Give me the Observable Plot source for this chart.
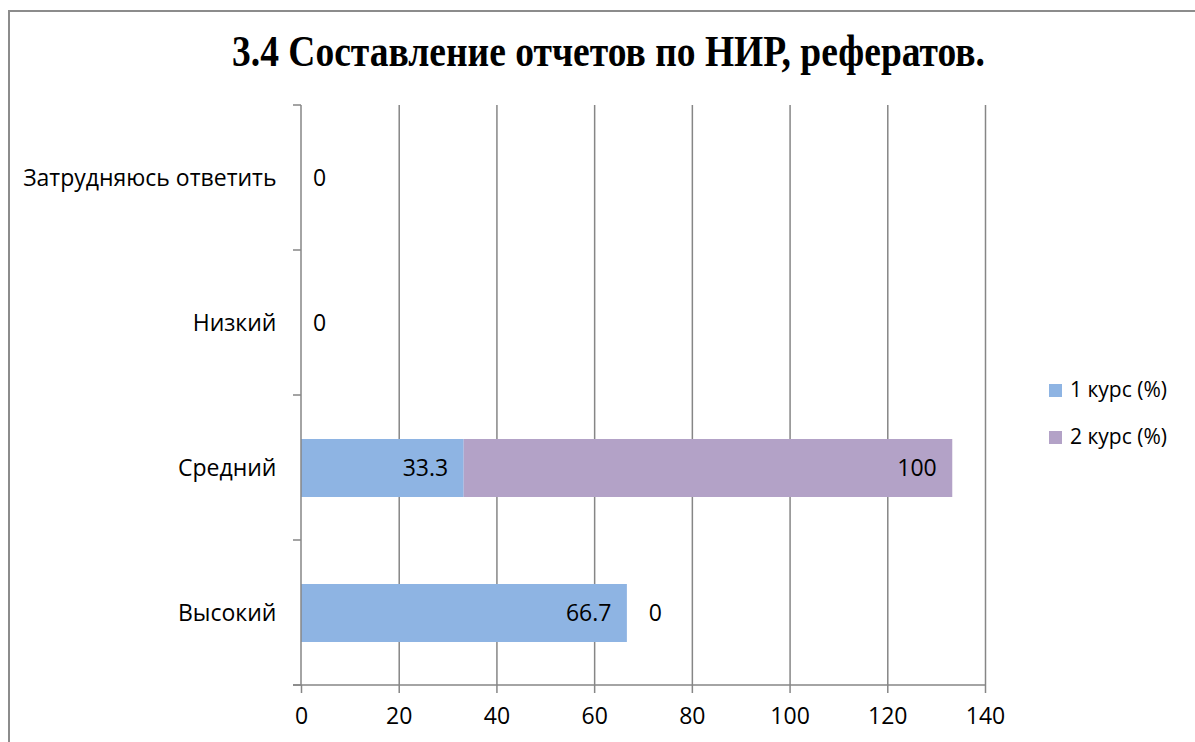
<!DOCTYPE html>
<html>
<head>
<meta charset="utf-8">
<script src="https://cdn.jsdelivr.net/npm/d3@7"></script>
<script src="https://cdn.jsdelivr.net/npm/@observablehq/plot@0.6"></script>
<style>
  html, body { margin: 0; padding: 0; background: #fff; }
  #wrap { position: relative; width: 1195px; height: 742px; overflow: hidden; background: #fff; }
  #frame { position: absolute; left: 8px; top: 10px; width: 1300px; height: 900px; border-left: 2px solid #8c8c8c; border-top: 2px solid #8c8c8c; box-sizing: border-box; }
  #title { position: absolute; left: 232px; top: 29px; font-family: "Liberation Serif", "Times New Roman", serif; font-weight: bold; font-size: 44px; line-height: 46px; white-space: nowrap; color: #000; transform-origin: 0 0; }
  #plot { position: absolute; left: 0; top: 80px; }
  .leg { position: absolute; left: 1049px; font-family: "Open Sans", sans-serif; font-size: 21px; color: #000; white-space: nowrap; line-height: 22px; }
  .leg span.sw { display: inline-block; width: 13px; height: 13px; margin-right: 8px; vertical-align: 0px; }
</style>
</head>
<body>
<div id="wrap">
  <div id="frame"></div>
  <div id="title"></div>
  <div id="plot"></div>
</div>
<script>
const titleText = "3.4 Составление отчетов по НИР, рефератов.";
const categories = ["Затрудняюсь ответить", "Низкий", "Средний", "Высокий"];
const seriesNames = ["1 курс (%)", "2 курс (%)"];
const course1 = [0, 0, 33.3, 66.7];
const course2 = [0, 0, 100, 0];
const xTicks = [0, 20, 40, 60, 80, 100, 120, 140];
const colors = ["#8EB4E3", "#B3A2C7"];

const FONT = "Open Sans";
const AXIS = "#868686";
const FS = "23px";

// title, fitted to reference width
const t = document.getElementById("title");
t.textContent = titleText;
const tw = t.getBoundingClientRect().width;
t.style.transform = `scaleX(${753 / tw})`;

const rows = categories.flatMap((c, i) => [
  {category: c, series: seriesNames[0], value: course1[i], other: course2[i], idx: 0},
  {category: c, series: seriesNames[1], value: course2[i], other: course1[i], idx: 1}
]);

const axisLines = (index, scales, values, dimensions) => {
  const {width, height, marginTop, marginBottom, marginLeft, marginRight} = dimensions;
  const y0 = marginTop, y1 = height - marginBottom, x0 = marginLeft, x1 = width - marginRight;
  const g = d3.create("svg:g").attr("stroke", AXIS).attr("stroke-width", 1.5);
  g.append("line").attr("x1", x0).attr("x2", x0).attr("y1", y0).attr("y2", y1);
  g.append("line").attr("x1", x0 - 8).attr("x2", x1).attr("y1", y1).attr("y2", y1);
  const n = categories.length;
  for (let k = 0; k <= n; ++k) {
    const yy = y0 + k * (y1 - y0) / n;
    g.append("line").attr("x1", x0 - 8).attr("x2", x0).attr("y1", yy).attr("y2", yy);
  }
  return g.node();
};

const chart = Plot.plot({
  width: 1195,
  height: 655,
  marginTop: 25,
  marginBottom: 50,
  marginLeft: 301,
  marginRight: 210,
  style: {fontFamily: FONT, fontSize: FS, color: "#000", background: "transparent"},
  x: {domain: [0, 140], ticks: xTicks},
  y: {domain: categories, paddingInner: 0.6, paddingOuter: 0.3},
  color: {domain: seriesNames, range: colors},
  marks: [
    Plot.ruleX(xTicks.slice(1), {stroke: AXIS, strokeWidth: 1.5}),
    Plot.barX(rows, {y: "category", x: "value", fill: "series"}),
    axisLines,
    Plot.axisX({ticks: xTicks, tickSize: 8, tickPadding: 14, stroke: AXIS, strokeWidth: 1.5, fill: "#000", fontSize: FS, label: null}),
    Plot.axisY({tickSize: 0, tickPadding: 25, fill: "#000", fontSize: FS, label: null}),
    Plot.text(rows, Plot.stackX2({y: "category", x: "value", text: d => d.value > 0 ? String(d.value) : "", textAnchor: "end", dx: -16, fill: "#000", fontSize: FS})),
    Plot.text(rows, Plot.stackX2({y: "category", x: "value", text: d => d.value === 0 && d.idx === 0 ? "0" : "", textAnchor: "middle", dx: 18, fill: "#000", fontSize: FS})),
    Plot.text(rows, Plot.stackX2({y: "category", x: "value", text: d => d.value === 0 && d.idx === 1 && d.other > 0 ? "0" : "", textAnchor: "middle", dx: 28, fill: "#000", fontSize: FS}))
  ]
});
document.getElementById("plot").appendChild(chart);

// legend
const wrap = document.getElementById("wrap");
const legTops = [378, 425];
seriesNames.forEach((s, i) => {
  const d = document.createElement("div");
  d.className = "leg";
  d.style.top = legTops[i] + "px";
  d.innerHTML = `<span class="sw" style="background:${colors[i]}"></span>${s}`;
  wrap.appendChild(d);
});
</script>
</body>
</html>
